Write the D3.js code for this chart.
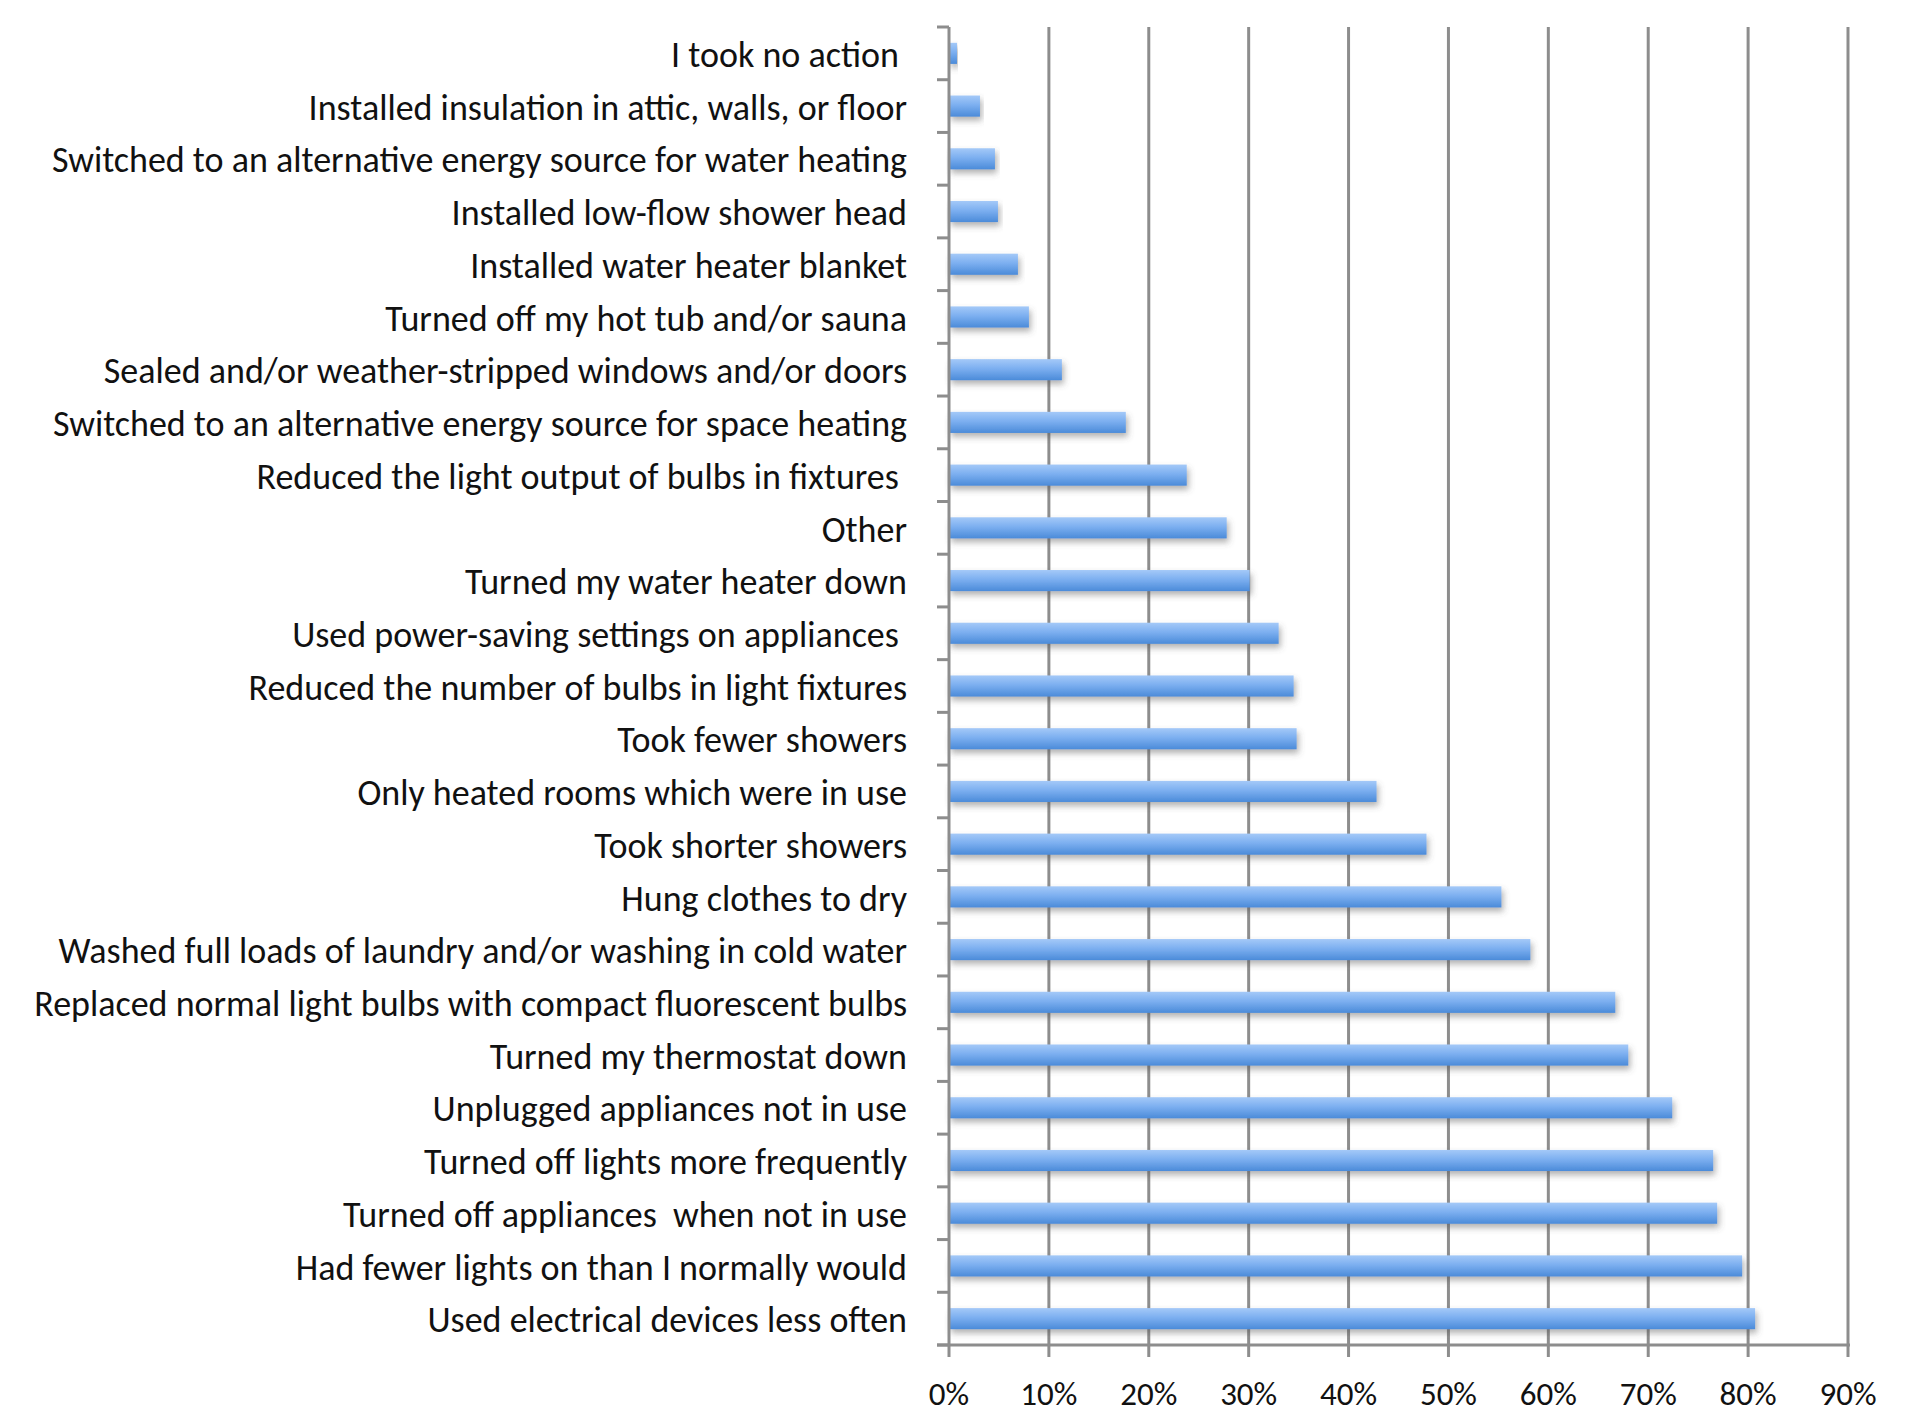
<!DOCTYPE html>
<html>
<head>
<meta charset="utf-8">
<script src="https://cdn.jsdelivr.net/npm/d3@7"></script>
<style>
  html, body { margin: 0; padding: 0; background: #ffffff; }
  svg { display: block; }
  .lbl { font-family: Carlito, Lato, "Open Sans", sans-serif; fill: #111; white-space: pre; }
</style>
</head>
<body>
<svg id="chart" width="1908" height="1416"></svg>
<script>
// Actions taken to save energy, share of respondents (top to bottom)
const actions = [
  "I took no action ",
  "Installed insulation in attic, walls, or floor",
  "Switched to an alternative energy source for water heating",
  "Installed low-flow shower head",
  "Installed water heater blanket",
  "Turned off my hot tub and/or sauna",
  "Sealed and/or weather-stripped windows and/or doors",
  "Switched to an alternative energy source for space heating",
  "Reduced the light output of bulbs in fixtures ",
  "Other",
  "Turned my water heater down",
  "Used power-saving settings on appliances ",
  "Reduced the number of bulbs in light fixtures",
  "Took fewer showers",
  "Only heated rooms which were in use",
  "Took shorter showers",
  "Hung clothes to dry",
  "Washed full loads of laundry and/or washing in cold water",
  "Replaced normal light bulbs with compact fluorescent bulbs",
  "Turned my thermostat down",
  "Unplugged appliances not in use",
  "Turned off lights more frequently",
  "Turned off appliances  when not in use",
  "Had fewer lights on than I normally would",
  "Used electrical devices less often"
];
const shares = [
  0.008, 0.031, 0.046, 0.049, 0.069, 0.080, 0.113, 0.177, 0.238, 0.278,
  0.301, 0.330, 0.345, 0.348, 0.428, 0.478, 0.553, 0.582, 0.667, 0.680,
  0.724, 0.765, 0.769, 0.794, 0.807
];
const tickValues = [0, 0.1, 0.2, 0.3, 0.4, 0.5, 0.6, 0.7, 0.8, 0.9];
const tickLabels = ["0%", "10%", "20%", "30%", "40%", "50%", "60%", "70%", "80%", "90%"];

const svg = d3.select("#chart");
const W = 1908, H = 1416;
const plot = { left: 949, right: 1848, top: 27, bottom: 1345 };
const axisColor = "#8d8d8d";
const fontSize = 36;

svg.append("rect").attr("width", W).attr("height", H).attr("fill", "#fff");

const x = d3.scaleLinear().domain([0, 0.9]).range([plot.left, plot.right]);
const y = d3.scaleBand().domain(actions).range([plot.top, plot.bottom]).paddingInner(0).paddingOuter(0);
const barH = y.bandwidth() * 0.4;

const defs = svg.append("defs");
const grad = defs.append("linearGradient").attr("id", "barFill")
  .attr("x1", 0).attr("y1", 0).attr("x2", 0).attr("y2", 1);
grad.append("stop").attr("offset", "0%").attr("stop-color", "#a4c9f8");
grad.append("stop").attr("offset", "45%").attr("stop-color", "#7caff0");
grad.append("stop").attr("offset", "100%").attr("stop-color", "#4b8bd9");

const shadow = defs.append("filter").attr("id", "barShadow")
  .attr("x", "-5%").attr("y", "-50%").attr("width", "115%").attr("height", "250%");
shadow.append("feDropShadow").attr("dx", 2).attr("dy", 4).attr("stdDeviation", 3)
  .attr("flood-color", "#555").attr("flood-opacity", 0.45);

// vertical gridlines
svg.append("g").selectAll("line").data(tickValues.slice(1)).join("line")
  .attr("x1", d => x(d)).attr("x2", d => x(d))
  .attr("y1", plot.top).attr("y2", plot.bottom)
  .attr("stroke", axisColor).attr("stroke-width", 3);

// bars
svg.append("g").selectAll("rect").data(actions).join("rect")
  .attr("x", x(0))
  .attr("y", d => y(d) + (y.bandwidth() - barH) / 2)
  .attr("width", (d, i) => x(shares[i]) - x(0))
  .attr("height", barH)
  .attr("fill", "url(#barFill)")
  .attr("filter", "url(#barShadow)");

// y axis: line with outward ticks at band boundaries
const yAxisG = svg.append("g");
yAxisG.append("line")
  .attr("x1", plot.left).attr("x2", plot.left)
  .attr("y1", plot.top).attr("y2", plot.bottom)
  .attr("stroke", axisColor).attr("stroke-width", 3);
const boundaries = actions.map(a => y(a)).concat([plot.bottom]);
yAxisG.selectAll("line.tick").data(boundaries).join("line").attr("class", "tick")
  .attr("x1", plot.left - 12).attr("x2", plot.left)
  .attr("y1", d => d).attr("y2", d => d)
  .attr("stroke", axisColor).attr("stroke-width", 3);

// category labels
svg.append("g").selectAll("text").data(actions).join("text")
  .attr("class", "lbl")
  .attr("x", 907)
  .attr("y", d => y(d) + y.bandwidth() / 2)
  .attr("dy", "0.38em")
  .attr("text-anchor", "end")
  .attr("font-size", fontSize)
  .text(d => d);

// x axis: baseline with downward ticks
const xAxisG = svg.append("g");
xAxisG.append("line")
  .attr("x1", plot.left - 12).attr("x2", plot.right + 2)
  .attr("y1", plot.bottom).attr("y2", plot.bottom)
  .attr("stroke", axisColor).attr("stroke-width", 3);
xAxisG.selectAll("line.tick").data(tickValues).join("line").attr("class", "tick")
  .attr("x1", d => x(d)).attr("x2", d => x(d))
  .attr("y1", plot.bottom).attr("y2", plot.bottom + 12)
  .attr("stroke", axisColor).attr("stroke-width", 3);
xAxisG.selectAll("text").data(tickValues).join("text")
  .attr("class", "lbl")
  .attr("x", d => x(d))
  .attr("y", 1405)
  .attr("text-anchor", "middle")
  .attr("font-size", 33)
  .text((d, i) => tickLabels[i]);
</script>
</body>
</html>
